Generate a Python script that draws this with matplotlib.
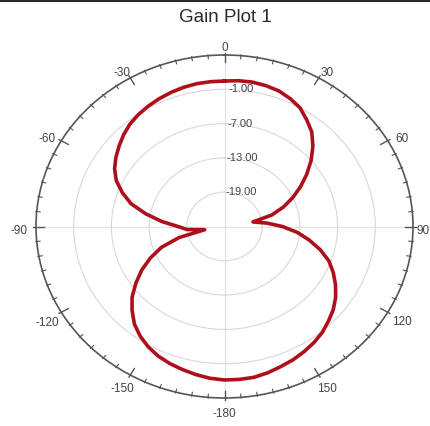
import numpy as np
import matplotlib.pyplot as plt
from matplotlib.lines import Line2D

plt.rcParams["font.family"] = ["Liberation Sans", "DejaVu Sans"]

# gain (dB), angle in degrees (clockwise from top)
angles_deg = [0, 5, 10, 15, 20, 25, 30, 35, 40, 45, 50, 55, 60, 65, 70, 75, 80,
              85, 90, 95, 100, 105, 110, 115, 120, 125, 130, 135, 140, 145, 150,
              155, 160, 165, 170, 175, 180, 185, 190, 195, 200, 205, 210, 215,
              220, 225, 230, 235, 240, 245, 250, 255, 260, 265, 270, 275, 280,
              285, 290, 295, 300, 305, 310, 315, 320, 325, 330, 335, 340, 345,
              350, 355, 360]
gain_db = [0.45, 0.6, 0.65, 0.5, 0.25, -0.3, -1.0, -2.2, -3.4, -5.1, -7.0, -9.0,
           -11.0, -13.0, -15.0, -17.2, -20.4, -18.2, -15.8, -13.4, -11.3, -9.2,
           -7.3, -5.9, -4.6, -3.4, -2.4, -1.6, -0.8, -0.2, 0.3, 0.75, 1.1, 1.5,
           1.8, 1.85, 1.85, 1.65, 1.3, 0.9, 0.5, 0.0, -0.7, -1.6, -2.7, -4.2,
           -5.8, -7.8, -9.8, -12.0, -14.3, -17.5, -21.8, -19.0, -17.6, -15.0,
           -12.3, -9.6, -7.7, -6.0, -4.8, -3.9, -3.1, -2.3, -1.6, -1.1, -0.7,
           -0.35, -0.05, 0.2, 0.37, 0.43, 0.45]

r_ticks = [-19, -13, -7, -1]
r_labels = ["-19.00", "-13.00", "-7.00", "-1.00"]
theta_ticks = [0, 30, 60, 90, 120, 150, 180, 210, 240, 270, 300, 330]
theta_labels = ["0", "30", "60", "90", "120", "150", "-180", "-150", "-120", "-90", "-60", "-30"]

R_MIN, R_MAX = -25, 5
W, H = 431, 426

fig = plt.figure(figsize=(W / 100, H / 100), dpi=100)
fig.patch.set_facecolor("white")
ax = fig.add_axes([36 / W, 28 / H, 377 / W, 343 / H], projection="polar")
ax.set_aspect("auto")
ax.set_theta_zero_location("N")
ax.set_theta_direction(-1)
ax.set_rlim(R_MIN, R_MAX)

ax.plot(np.deg2rad(angles_deg), gain_db, color="#ad101b", lw=2.6, zorder=5)

# angle grid: only the two axes through the centre
ax.set_xticks([])
ax.xaxis.grid(False)
for t in [0, 90, 180, 270]:
    ax.plot([np.deg2rad(t)] * 2, [R_MIN, R_MAX], color="#e2e2e2", lw=0.8, zorder=1)

# tick marks on the outer ring
for t in range(0, 360, 5):
    th = np.deg2rad(t)
    if t % 30 == 0:
        ax.plot([th, th], [R_MAX + 0.4, R_MAX - 1.3], color="#555555", lw=1.0, clip_on=False, zorder=4)
    else:
        ax.plot([th, th], [R_MAX + 0.15, R_MAX - 0.55], color="#555555", lw=0.8, clip_on=False, zorder=4)

# angle labels on a ring just outside the plot (pixel layout)
cx, cy, rx, ry = 224.5, 231, 205, 183
for t, lab in zip(theta_ticks, theta_labels):
    a = np.deg2rad(t)
    px = cx + rx * np.sin(a)
    py = cy - ry * np.cos(a)
    ha = "center"
    if t == 90:
        px, ha = W - 1, "right"
    fig.text(px / W, 1 - py / H, lab, ha=ha, va="center", fontsize=8.5, color="#444444")

# radial grid and labels
ax.set_yticks(r_ticks)
ax.set_yticklabels([])
ax.yaxis.grid(True, color="#d8d8d8", lw=0.8)
for r, lab in zip(r_ticks, r_labels):
    ax.text(np.deg2rad(1.5), r, lab, ha="left", va="center", fontsize=8, color="#444444", zorder=6)

ax.spines["polar"].set_color("#555555")
ax.spines["polar"].set_linewidth(1.2)

fig.text(0.524, 0.958, "Gain Plot 1", ha="center", va="center", fontsize=13.5, color="#2a2a2a")
fig.add_artist(Line2D([0, 1], [0.998, 0.998], color="black", lw=1.2))

fig.savefig("out.png", dpi=100)
